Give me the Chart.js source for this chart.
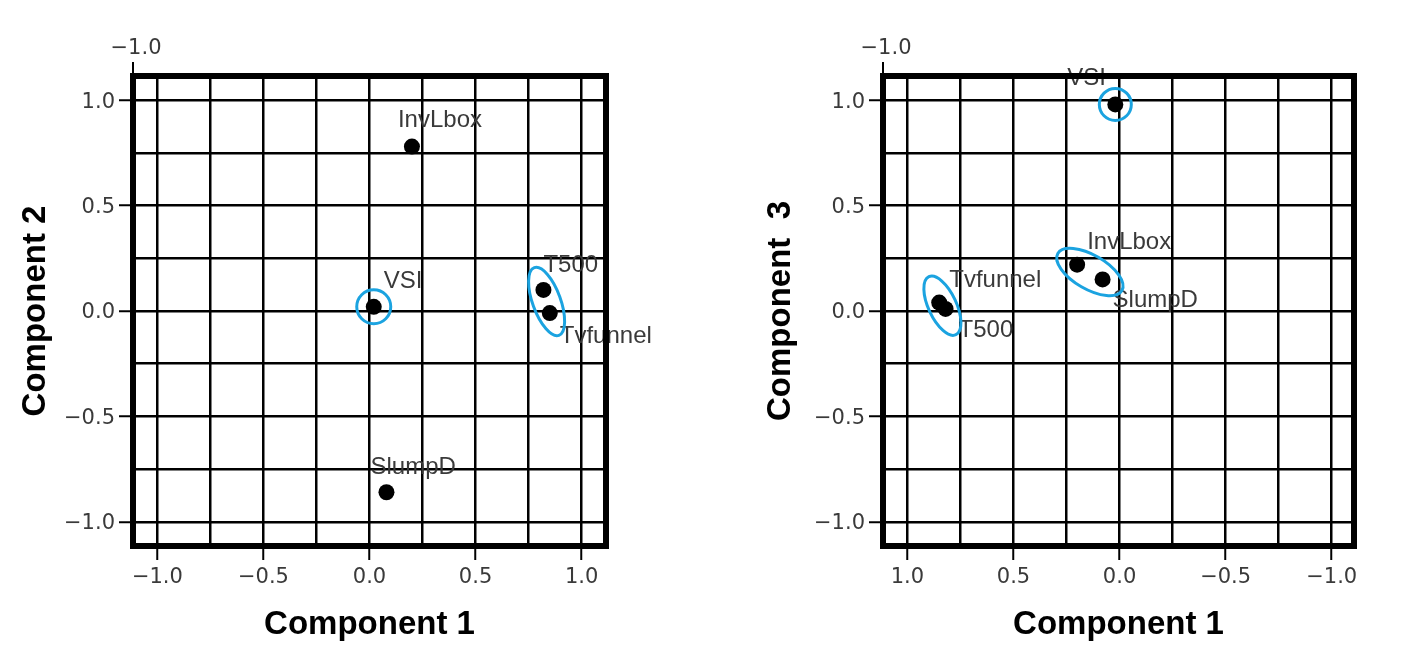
<!DOCTYPE html>
<html><head><meta charset="utf-8">
<script src="https://cdn.jsdelivr.net/npm/chart.js@4"></script>
<style>
html,body{margin:0;padding:0;background:#fff;}
#wrap{position:relative;width:1416px;height:668px;overflow:hidden;}
.c{position:absolute;top:0;width:708px;height:668px;}
</style></head><body>
<div id="wrap">
<div class="c" style="left:0"><canvas id="c1"></canvas></div>
<div class="c" style="left:708px"><canvas id="c2"></canvas></div>
</div>
<script>
// ---- data ----
const variables  = ['InvLbox', 'VSI', 'T500', 'Tvfunnel', 'SlumpD'];
const component1 = [0.20, 0.02, 0.82, 0.85, 0.08];
const component2 = [0.78, 0.02, 0.10, -0.01, -0.86];
const component3 = [0.22, 0.98, 0.01, 0.04, 0.15];
const tickValues = [-1, -0.75, -0.5, -0.25, 0, 0.25, 0.5, 0.75, 1];
const cornerLabel = '\u22121.0';

// ---- styling helpers ----
const TICK_FONT = {family: '"DejaVu Sans", sans-serif', size: 21};
const TITLE_FONT = {family: '"Liberation Sans", Arial, sans-serif', size: 33, weight: 'bold'};
function isMajor(v){ return Math.abs(Math.round(v * 4)) % 2 === 0; }
function fmt(v){ return isMajor(v) ? v.toFixed(1).replace('-', '\u2212') : ''; }

function scaleOpts(o){
  return {
    type: 'linear', position: o.position, reverse: !!o.reverse,
    min: o.min, max: o.max,
    afterBuildTicks: s => { s.ticks = tickValues.map(v => ({value: v})); },
    afterFit: s => { if (o.position === 'left') s.width = o.size; else s.height = o.size; },
    grid: {
      color: '#000', lineWidth: 2.5, drawTicks: true, tickLength: 14, tickWidth: 2,
      tickColor: c => (c.tick && isMajor(c.tick.value)) ? '#000' : 'rgba(0,0,0,0)'
    },
    border: {display: true, color: '#000', width: 2},
    ticks: {autoSkip: false, maxRotation: 0, padding: o.tickPad, color: '#3a3a3a', font: TICK_FONT,
            labelOffset: o.labelOffset || 0, callback: v => fmt(v)},
    title: {display: true, text: o.title, color: '#000', font: TITLE_FONT, padding: o.titlePad}
  };
}

const overlay = {
  id: 'overlay',
  afterDatasetsDraw(chart, args, opts){
    const ctx = chart.ctx, meta = chart.getDatasetMeta(0), ca = chart.chartArea;
    ctx.save();
    // point labels
    ctx.font = '24px "Liberation Sans", Arial, sans-serif';
    ctx.fillStyle = '#3a3a3a'; ctx.textBaseline = 'middle'; ctx.textAlign = 'left';
    meta.data.forEach((el, i) => {
      const name = variables[i];
      const off = opts.labelOffsets[name];
      ctx.fillText(name, el.x + off[0], el.y + off[1]);
    });
    // highlight ellipses
    ctx.strokeStyle = '#1BA3E0'; ctx.lineWidth = 3;
    opts.groups.forEach(g => {
      const els = g.members.map(m => meta.data[variables.indexOf(m)]);
      const cx = els.reduce((a, e) => a + e.x, 0) / els.length;
      const cy = els.reduce((a, e) => a + e.y, 0) / els.length;
      ctx.beginPath();
      ctx.ellipse(cx, cy, g.rx, g.ry, g.rot * Math.PI / 180, 0, 2 * Math.PI);
      ctx.stroke();
    });
    // frame
    ctx.strokeStyle = '#000'; ctx.lineWidth = 6;
    ctx.strokeRect(ca.left, ca.top, ca.right - ca.left, ca.bottom - ca.top);
    // corner tick + label
    ctx.lineWidth = 2;
    ctx.beginPath(); ctx.moveTo(ca.left, ca.top); ctx.lineTo(ca.left, ca.top - 14); ctx.stroke();
    ctx.font = '21px "DejaVu Sans", sans-serif';
    ctx.fillStyle = '#3a3a3a'; ctx.textAlign = 'center'; ctx.textBaseline = 'middle';
    ctx.fillText(cornerLabel, ca.left + 3, ca.top - 27);
    ctx.restore();
  }
};

function makeChart(id, xs, ys, cfg){
  const pts = variables.map((v, i) => ({x: xs[i], y: ys[i]}));
  return new Chart(document.getElementById(id), {
    type: 'scatter',
    data: {datasets: [{data: pts, pointRadius: 8, pointHoverRadius: 8,
                       backgroundColor: '#000', borderWidth: 0}]},
    options: {
      responsive: true, maintainAspectRatio: false, animation: false, events: [],
      layout: {padding: cfg.padding},
      plugins: {legend: {display: false}, tooltip: {enabled: false},
                overlay: {labelOffsets: cfg.labelOffsets, groups: cfg.groups}},
      scales: {
        x: scaleOpts({position: 'bottom', reverse: cfg.reverseX, min: cfg.xMin, max: cfg.xMax,
                      size: 122, tickPad: 5, title: 'Component 1', titlePad: {top: 0, bottom: 23}}),
        y: scaleOpts({position: 'left', min: -1.115, max: 1.115, size: cfg.ySize, tickPad: 4, labelOffset: 2,
                      title: cfg.yTitle, titlePad: {top: cfg.yTitlePad, bottom: 0}})
      }
    },
    plugins: [overlay]
  });
}

makeChart('c1', component1, component2, {
  padding: {left: 0, top: 76, right: 102, bottom: 0},
  reverseX: false, xMin: -1.115, xMax: 1.115, ySize: 133,
  yTitle: 'Component 2', yTitlePad: 16,
  labelOffsets: {InvLbox: [-14, -26], VSI: [10, -25], T500: [0, -25], Tvfunnel: [10, 23], SlumpD: [-16, -25]},
  groups: [
    {members: ['VSI'], rx: 17, ry: 17, rot: 0},
    {members: ['T500', 'Tvfunnel'], rx: 14, ry: 36, rot: -20}
  ]
});

makeChart('c2', component1, component3, {
  padding: {left: 0, top: 76, right: 62, bottom: 0},
  reverseX: true, xMin: -1.105, xMax: 1.115, ySize: 175,
  yTitle: 'Component  3', yTitlePad: 53,
  labelOffsets: {InvLbox: [10, -22], VSI: [-48, -26], T500: [13, 21], Tvfunnel: [10, -22], SlumpD: [10, 21]},
  groups: [
    {members: ['VSI'], rx: 16, ry: 16, rot: 0},
    {members: ['InvLbox', 'SlumpD'], rx: 37, ry: 17, rot: 30},
    {members: ['Tvfunnel', 'T500'], rx: 14, ry: 32, rot: -25}
  ]
});
</script>
</body></html>
